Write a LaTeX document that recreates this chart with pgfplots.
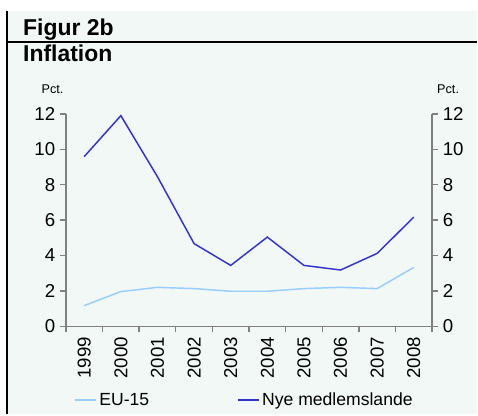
\documentclass[border=0pt]{standalone}
\usepackage{pgfplots}
\pgfplotsset{compat=1.18}
\usepackage{fontspec}
\setmainfont{Liberation Sans}
\definecolor{bg}{RGB}{241,248,246}
\definecolor{nye}{RGB}{51,51,204}
\definecolor{eu}{RGB}{153,204,255}
\definecolor{axgray}{RGB}{128,128,128}
\begin{document}
\begin{tikzpicture}[x=0.75pt,y=0.75pt]
\path[fill=white] (0,0) rectangle (478,415);
\fill[bg] (7,0) rectangle (478,404);
\draw[black, line width=0.9pt] (7,0) -- (7,404);
\draw[black, line width=0.9pt] (7,373) -- (478,373);
\node[anchor=base west, inner sep=0, font=\bfseries\fontsize{17.2}{19}\selectfont] at (23,379) {Figur 2b};
\node[anchor=base west, inner sep=0, font=\bfseries\fontsize{17.2}{19}\selectfont] at (23,353.3) {Inflation};
\node[anchor=base west, inner sep=0, font=\fontsize{9.5}{11}\selectfont] at (41.5,321) {Pct.};
\node[anchor=base west, inner sep=0, font=\fontsize{9.5}{11}\selectfont] at (437.5,321) {Pct.};
\begin{axis}[
  at={(49.5pt,66.225pt)}, anchor=south west, scale only axis,
  width=275pt, height=159.5pt,
  xmin=0.5, xmax=10.5, ymin=0, ymax=12,
  axis x line*=bottom, axis y line*=left,
  x axis line style={-}, y axis line style={-},
  axis line style={axgray, line width=1pt},
  tick align=outside,
  tick style={axgray, line width=1pt},
  xtick={1,...,10}, xticklabels={1999,2000,2001,2002,2003,2004,2005,2006,2007,2008},
  major x tick style={draw=none},
  minor xtick={0.5,1.5,...,10.5},
  minor tick length=4.5pt,
  major tick length=4.5pt,
  ytick={0,2,...,12},
  tick label style={font=\fontsize{14}{16}\selectfont},
  xticklabel style={rotate=90, anchor=east},
  /pgf/number format/assume math mode=true,
  legend style={at={(0.022,-0.348)}, anchor=west, draw=none, fill=none,
    font=\fontsize{13.2}{15}\selectfont, inner sep=0pt,
    /tikz/every even column/.append style={column sep=64pt}},
  legend columns=2,
  legend image code/.code={\draw[#1] (0pt,0pt) -- (15.75pt,0pt);},
]
\addplot[eu, line width=1.1pt] coordinates {
(1,1.17) (2,1.96) (3,2.2) (4,2.13) (5,1.98) (6,1.98) (7,2.13) (8,2.2) (9,2.13) (10,3.33)};
\addlegendentry{EU-15}
\addplot[nye, line width=1.1pt] coordinates {
(1,9.59) (2,11.9) (3,8.45) (4,4.67) (5,3.44) (6,5.04) (7,3.44) (8,3.18) (9,4.12) (10,6.17)};
\addlegendentry{Nye medlemslande}
\end{axis}
\begin{axis}[
  at={(49.5pt,66.225pt)}, anchor=south west, scale only axis,
  width=275pt, height=159.5pt,
  xmin=0.5, xmax=10.5, ymin=0, ymax=12,
  axis x line=none, axis y line*=right,
  y axis line style={-},
  axis line style={axgray, line width=1pt},
  tick align=outside,
  tick style={axgray, line width=1pt},
  major tick length=4.5pt,
  ytick={0,2,...,12},
  yticklabel pos=right,
  tick label style={font=\fontsize{14}{16}\selectfont},
  /pgf/number format/assume math mode=true,
]
\addplot[draw=none] coordinates {(1,0)};
\end{axis}
\end{tikzpicture}
\end{document}
